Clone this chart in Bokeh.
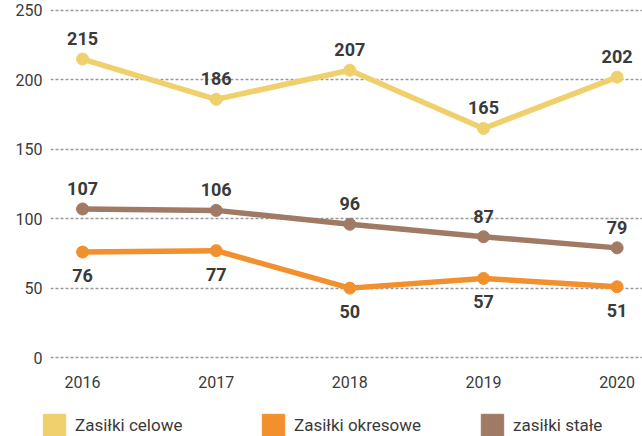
from bokeh.plotting import figure
from bokeh.layouts import column, row
from bokeh.models import ColumnDataSource, FixedTicker, Legend, LegendItem, Range1d
from bokeh.core.properties import value
from bokeh.embed import file_html
from bokeh.resources import INLINE

years = [2016, 2017, 2018, 2019, 2020]
celowe = [215, 186, 207, 165, 202]
okresowe = [76, 77, 50, 57, 51]
stale = [107, 106, 96, 87, 79]
series_names = ["Zasiłki celowe", "Zasiłki okresowe", "zasiłki stałe"]
y_ticks = [0, 50, 100, 150, 200, 250]

colors = ["#EFD06C", "#F2902E", "#A07A64"]
FONT = "Roboto"
TXT = "#3a3a3a"

p = figure(frame_width=592, frame_height=355, output_backend="svg", toolbar_location=None,
           x_range=Range1d(2015.76, 2020.19), y_range=Range1d(-4.3, 251.44),
           min_border_left=50, min_border_right=0, min_border_top=8, min_border_bottom=37)
p.outline_line_color = None
p.background_fill_color = "white"
p.border_fill_color = "white"

p.xgrid.grid_line_color = None
p.ygrid.grid_line_color = "#9A9A9A"
p.ygrid.grid_line_dash = "3 2"
p.ygrid.grid_line_width = 1.5
p.yaxis.ticker = FixedTicker(ticks=y_ticks)
p.xaxis.ticker = FixedTicker(ticks=years)

for ax in (p.xaxis, p.yaxis):
    ax.axis_line_color = None
    ax.major_tick_line_color = None
    ax.minor_tick_line_color = None
    ax.major_tick_out = 0
    ax.major_tick_in = 0
    ax.minor_tick_out = 0
    ax.major_label_text_font = FONT
    ax.major_label_text_font_size = "16px"
    ax.major_label_text_color = TXT
p.yaxis.major_label_standoff = 8
p.xaxis.major_label_standoff = 12

series = [celowe, okresowe, stale]
label_pos = ["above", "below", "above"]
for vals, col, pos in zip(series, colors, label_pos):
    src = ColumnDataSource(dict(x=years, y=vals, t=[str(v) for v in vals]))
    p.line("x", "y", source=src, line_color=col, line_width=5.5, line_join="round", line_cap="round")
    p.scatter("x", "y", source=src, size=12, fill_color=col, line_color=col)
    if pos == "above":
        p.text("x", "y", text="t", source=src, text_font=value(FONT), text_font_style="bold",
               text_font_size="18px", text_color=TXT, text_align="center",
               text_baseline="bottom", y_offset=-14)
    else:
        p.text("x", "y", text="t", source=src, text_font=value(FONT), text_font_style="bold",
               text_font_size="18px", text_color=TXT, text_align="center",
               text_baseline="top", y_offset=17)

# legend strip (its series sit outside its own ranges, only the legend is visible)
lg = figure(frame_width=642, frame_height=36, output_backend="svg", toolbar_location=None,
            x_range=Range1d(0, 1), y_range=Range1d(0, 1),
            x_axis_location=None, y_axis_location=None,
            min_border_left=0, min_border_right=0, min_border_top=0, min_border_bottom=0)
lg.grid.visible = False
lg.outline_line_color = None
lg.border_fill_color = "white"
items = []
for name, col, vals in zip(series_names, colors, series):
    r = lg.quad(left=years, right=years, top=vals, bottom=vals, fill_color=col, line_color=col)
    items.append(LegendItem(label=name, renderers=[r]))
leg = Legend(items=items, orientation="horizontal", location=(40, -3),
             glyph_width=28, glyph_height=28, label_standoff=7, label_width=184, spacing=0,
             padding=0, margin=0, border_line_color=None, background_fill_alpha=0,
             label_text_font=FONT, label_text_font_size="17px", label_text_color=TXT)
lg.add_layout(leg, "center")

layout = column(p, row(lg), spacing=0)
open("out.html", "w").write(file_html(layout, INLINE))
